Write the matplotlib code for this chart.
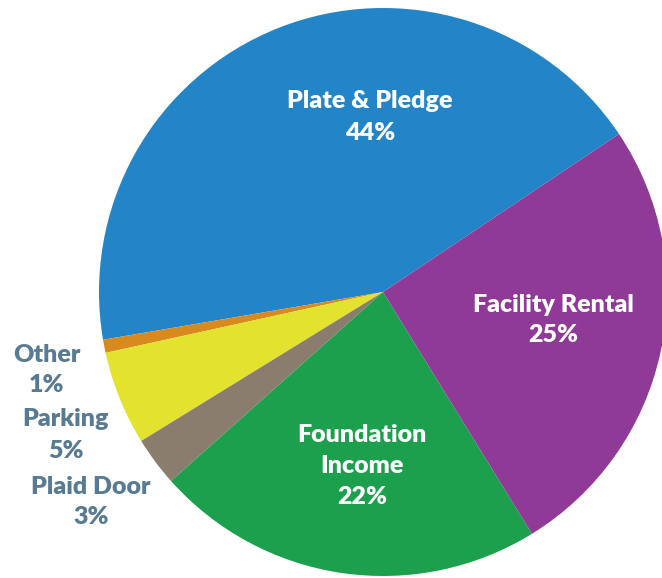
import matplotlib.pyplot as plt

# budget shares (angles)
labels = ["Plate & Pledge", "Other", "Parking", "Plaid Door", "Foundation\nIncome", "Facility Rental"]
shares = [43.3, 0.75, 5.35, 2.8, 22.2, 25.6]
pct_text = ["44%", "1%", "5%", "3%", "22%", "25%"]
colors = ["#2385C8", "#D98A1E", "#E3E22F", "#8B7D6E", "#1DA04E", "#8E3A96"]

plt.rcParams['font.family'] = ['Lato', 'DejaVu Sans']

fig = plt.figure(figsize=(6.62, 5.78), dpi=100)
ax = fig.add_axes([0, 0, 1, 1])

ax.pie(shares, colors=colors, startangle=33.8, counterclock=True,
       center=(383, 286), radius=284, frame=True,
       wedgeprops=dict(linewidth=0))
ax.set_xlim(0, 662)
ax.set_ylim(0, 578)
ax.set_aspect('equal')
ax.axis('off')

# labels inside the pie (white)
inside = {0: (370, 461), 5: (553, 258), 4: (362, 112)}
for i, (x, y) in inside.items():
    ax.text(x, y, labels[i] + "\n" + pct_text[i], color="white", fontsize=18,
            fontweight="heavy", ha="center", va="center", linespacing=1.5)

# small slices labelled outside
outside = {1: (47, 208), 2: (66, 143), 3: (91, 76)}
for i, (x, y) in outside.items():
    ax.text(x, y, labels[i] + "\n" + pct_text[i], color="#587B93", fontsize=18,
            fontweight="heavy", ha="center", va="center", linespacing=1.5)

fig.savefig("out.png", dpi=100)
